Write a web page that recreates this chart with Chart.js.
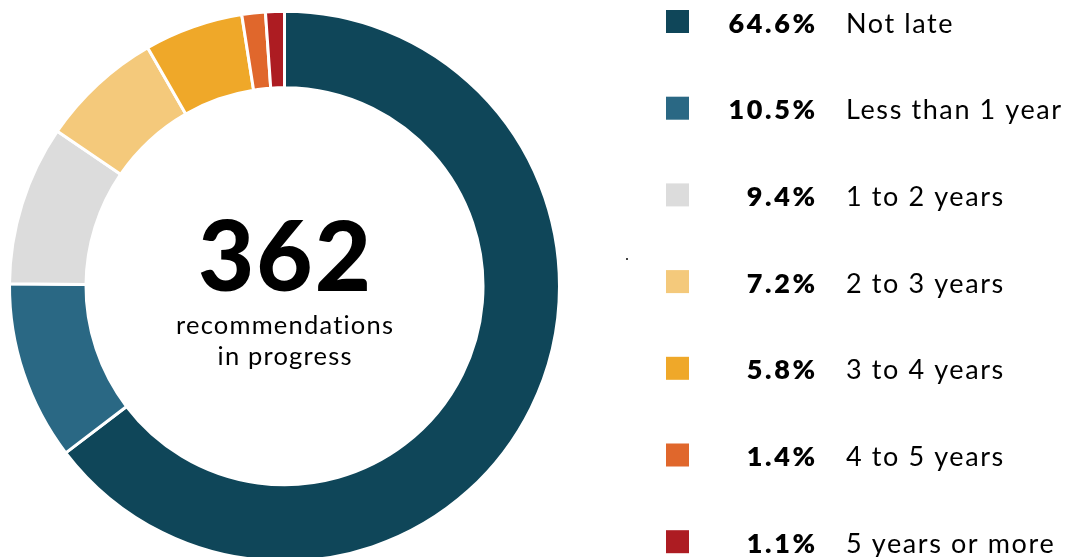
<!DOCTYPE html>
<html>
<head>
<meta charset="utf-8">
<script src="https://cdn.jsdelivr.net/npm/chart.js@4/dist/chart.umd.min.js"></script>
<style>
  html, body { margin: 0; padding: 0; background: #ffffff; overflow: hidden; }
  #wrap { position: relative; width: 1070px; height: 563px; }
</style>
</head>
<body>
<div id="wrap"><canvas id="c" width="1070" height="563"></canvas></div>
<script>
const categories = ['Not late', 'Less than 1 year', '1 to 2 years', '2 to 3 years', '3 to 4 years', '4 to 5 years', '5 years or more'];
const counts = [234, 38, 34, 26, 21, 5, 4];
const percentLabels = ['64.6%', '10.5%', '9.4%', '7.2%', '5.8%', '1.4%', '1.1%'];
const colors = ['#0F4659', '#2A6884', '#DCDCDC', '#F4C97B', '#EFA829', '#E0672C', '#AD1C22'];
const totalLabel = '362';
const centerLines = ['recommendations', 'in progress'];

const FONT = 'Lato, "Open Sans", sans-serif';

function setSpacing(ctx, px) {
  if ('letterSpacing' in ctx) ctx.letterSpacing = px + 'px';
}

const overlay = {
  id: 'overlay',
  afterDraw(chart) {
    const ctx = chart.ctx;
    const meta = chart.getDatasetMeta(0);
    const arc = meta.data[0];
    const cx = arc.x;
    ctx.save();
    ctx.fillStyle = '#000000';
    ctx.textAlign = 'center';
    ctx.textBaseline = 'alphabetic';
    setSpacing(ctx, 2);
    ctx.font = '900 97px ' + FONT;
    ctx.fillText(totalLabel, cx + 1, 291);
    setSpacing(ctx, 1.2);
    ctx.font = '400 25.5px ' + FONT;
    ctx.fillText(centerLines[0], cx + 0.6, 334);
    ctx.fillText(centerLines[1], cx + 0.6, 365);

    // legend
    const ds = chart.data.datasets[0];
    const top0 = 10, step = 86.7, sq = 23;
    for (let i = 0; i < chart.data.labels.length; i++) {
      const y = top0 + i * step;
      ctx.fillStyle = ds.backgroundColor[i];
      ctx.fillRect(666, y, sq, sq);
      ctx.fillStyle = '#000000';
      ctx.textAlign = 'right';
      setSpacing(ctx, 2.6);
      ctx.font = '800 27px ' + FONT;
      ctx.fillText(percentLabels[i], 815 + 2.6, y + 22.5);
      ctx.textAlign = 'left';
      setSpacing(ctx, 1.6);
      ctx.font = '400 27px ' + FONT;
      ctx.fillText(chart.data.labels[i], 846, y + 22.5);
    }
    // small stray dot in the reference
    setSpacing(ctx, 0);
    ctx.fillStyle = '#444444';
    ctx.fillRect(626, 258, 2, 2);
    ctx.restore();
  }
};

new Chart(document.getElementById('c'), {
  type: 'doughnut',
  data: {
    labels: categories,
    datasets: [{
      data: counts,
      backgroundColor: colors,
      borderColor: '#ffffff',
      borderWidth: 3,
      hoverOffset: 0,
      hoverBorderWidth: 3
    }]
  },
  options: {
    responsive: false,
    animation: false,
    cutout: 198.5,
    rotation: 0,
    layout: { padding: { left: 8, top: 9.5, right: 509, bottom: 0 } },
    plugins: {
      legend: { display: false },
      tooltip: { enabled: false }
    },
    events: []
  },
  plugins: [overlay]
});
</script>
</body>
</html>
